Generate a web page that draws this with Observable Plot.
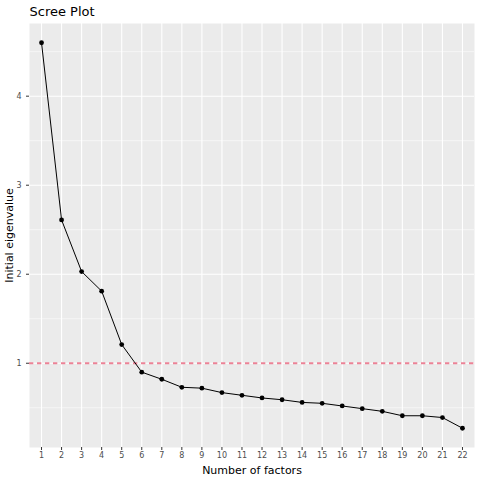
<!DOCTYPE html>
<html>
<head>
<meta charset="utf-8">
<script src="https://cdn.jsdelivr.net/npm/d3@7"></script>
<script src="https://cdn.jsdelivr.net/npm/@observablehq/plot@0.6"></script>
<style>
  body { margin: 0; background: #fff; }
  #chart svg { display: block; }
</style>
</head>
<body>
<div id="chart"></div>
<script>
// scree values
const factors = d3.range(1, 23);
const eigenvalues = [4.60, 2.61, 2.03, 1.81, 1.21, 0.90, 0.82, 0.73, 0.72, 0.67, 0.64,
                     0.61, 0.59, 0.56, 0.55, 0.52, 0.49, 0.46, 0.41, 0.41, 0.39, 0.27];
const yTicks = [1, 2, 3, 4];
const yMinor = [0.5, 1.5, 2.5, 3.5, 4.5];
const cutoff = 1;

const data = factors.map((f, i) => ({factor: f, value: eigenvalues[i]}));

// ggplot style expansion: 0.6 on discrete x, 5% on y
const yMin = d3.min(eigenvalues), yMax = d3.max(eigenvalues);
const yPad = (yMax - yMin) * 0.05;

const font = "DejaVu Sans, sans-serif";

let chart = Plot.plot({
  width: 480,
  height: 480,
  marginLeft: 29,
  marginRight: 6,
  marginTop: 23,
  marginBottom: 33,
  style: {fontFamily: font, background: "#fff"},
  x: {domain: [factors[0] - 0.6, factors[factors.length - 1] + 0.6]},
  y: {domain: [yMin - yPad, yMax + yPad]},
  marks: [
    Plot.frame({fill: "#EBEBEB", stroke: null}),
    Plot.ruleY(yMinor, {stroke: "#fff", strokeWidth: 0.55}),
    Plot.ruleY(yTicks, {stroke: "#fff", strokeWidth: 1.1}),
    Plot.ruleX(factors, {stroke: "#fff", strokeWidth: 1.1}),
    Plot.axisX(factors, {
      tickSize: 3, tickPadding: 2, stroke: "#333", fill: "#4D4D4D",
      fontSize: 8, label: null, tickFormat: d => d
    }),
    Plot.axisY(yTicks, {
      tickSize: 3, tickPadding: 5, stroke: "#333", fill: "#4D4D4D",
      fontSize: 8, label: null, tickFormat: d => d
    }),
    Plot.ruleY([cutoff], {stroke: "#EC8296", strokeWidth: 2, strokeDasharray: "4.3,3.7"}),
    Plot.line(data, {x: "factor", y: "value", stroke: "#000", strokeWidth: 1}),
    Plot.dot(data, {x: "factor", y: "value", r: 2.4, fill: "#000", stroke: null}),
    Plot.text(["Scree Plot"], {
      frameAnchor: "top-left", dy: -8, textAnchor: "start", lineAnchor: "bottom",
      fontSize: 13, fill: "#000", text: d => d
    }),
    Plot.text(["Number of factors"], {
      frameAnchor: "bottom", dy: 26, lineAnchor: "bottom",
      fontSize: 11, fill: "#000", text: d => d
    }),
    Plot.text(["Initial eigenvalue"], {
      frameAnchor: "left", dx: -20, rotate: -90, textAnchor: "middle", lineAnchor: "middle",
      fontSize: 11, fill: "#000", text: d => d
    })
  ]
});

d3.select('#chart').append(() => chart);
</script>
</body>
</html>
